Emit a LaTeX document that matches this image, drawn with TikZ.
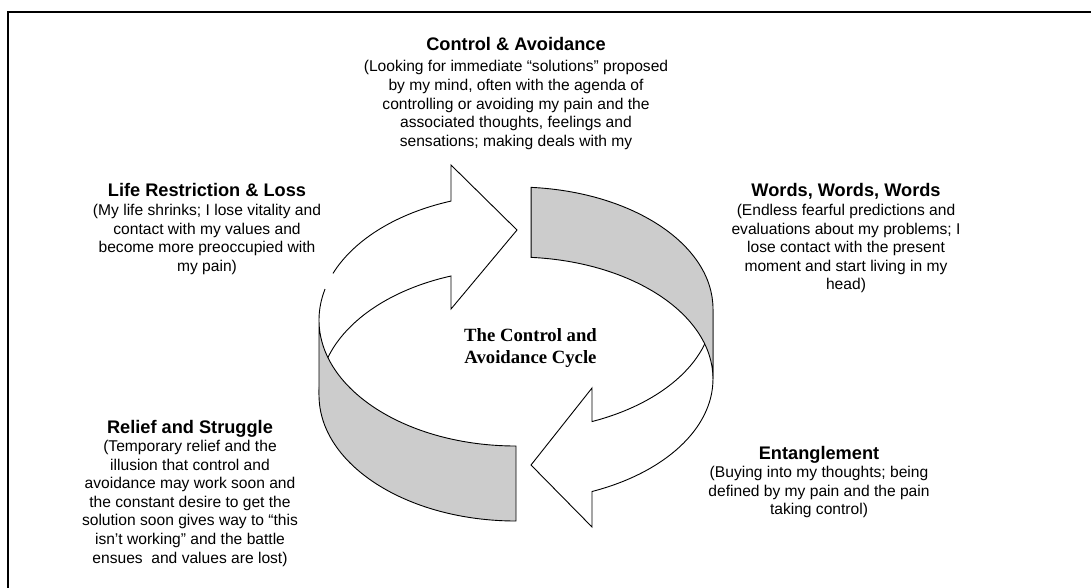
\documentclass[tikz,border=0pt]{standalone}
\usepackage{fontspec}
\setmainfont{Liberation Sans}
\newfontfamily\titlefont{Liberation Serif}
\usetikzlibrary{positioning}

\tikzset{
  headtext/.style={font=\fontsize{18.2}{21}\selectfont\bfseries, inner sep=0pt, anchor=base},
  bodytext/.style={font=\fontsize{15.6}{18.6}\selectfont, align=center, inner sep=0pt},
  cycletitle/.style={font=\titlefont\fontsize{18.7}{21.5}\selectfont\bfseries, align=center, inner sep=0pt},
  edge/.style={draw=black, line width=0.9pt, line join=miter},
  band/.style={edge, fill=white},
  bandgray/.style={edge, fill=gray!40},
}

\begin{document}
\begin{tikzpicture}[x=1pt, y=-1pt]
\useasboundingbox (0,0) rectangle (1091,587);
\draw[line width=2.6pt] (8,588) -- (8,12) -- (1092,12);

% centres of the ribbon edges
\coordinate (c1u) at (516,320);
\coordinate (c2u) at (516,309);

% ribbon 1: white arrow at the back, grey band in front
\fill[white] (c1u) ++(180:197 and 126) arc[start angle=180, end angle=250.73, x radius=197, y radius=126]
  -- (451,165) -- (517,230) -- (451,309) -- (451,276)
  arc[start angle=250.73, end angle=180, x radius=197, y radius=126] -- cycle;
\draw[edge] (c1u) ++(180:197 and 126) arc[start angle=180, end angle=194.2, x radius=197, y radius=126];
\draw[edge] (c1u) ++(201.7:197 and 126) arc[start angle=201.7, end angle=250.73, x radius=197, y radius=126]
  -- (451,165) -- (517,230) -- (451,309) -- (451,276)
  arc[start angle=250.73, end angle=180, x radius=197, y radius=126];
\path[bandgray] (c1u) ++(180:197 and 126) arc[start angle=180, end angle=90, x radius=197, y radius=126]
  -- ++(0,75) arc[start angle=90, end angle=180, x radius=197, y radius=126] -- cycle;

% ribbon 2: white arrow in front, grey band at the back
\path[band] (c2u) ++(0:197 and 122) arc[start angle=0, end angle=67.3, x radius=197, y radius=122]
  -- (592,388) -- (531,465) -- (592,527) -- (592,491.5)
  arc[start angle=67.3, end angle=0, x radius=197, y radius=122] -- cycle;
\path[bandgray] (c2u) ++(274.4:197 and 122) arc[start angle=274.4, end angle=360, x radius=197, y radius=122]
  -- ++(0,70) arc[start angle=360, end angle=274.4, x radius=197, y radius=122] -- cycle;

% texts
\node[headtext] (ctrl) at (516,50.7) {Control \& Avoidance};
\node[bodytext, below=9.6pt of ctrl.base] (ctrlbody) {(Looking for immediate “solutions” proposed\\
by my mind, often with the agenda of\\
controlling or avoiding my pain and the\\
associated thoughts, feelings and\\
sensations; making deals with my};

\node[headtext] (loss) at (207,196) {Life Restriction \& Loss};
\node[bodytext, below=8pt of loss.base] (lossbody) {(My life shrinks; I lose vitality and\\
contact with my values and\\
become more preoccupied with\\
my pain)};

\node[headtext] (words) at (846,196) {Words, Words, Words};
\node[bodytext, below=8pt of words.base] (wordsbody) {(Endless fearful predictions and\\
evaluations about my problems; I\\
lose contact with the present\\
moment and start living in my\\
head)};

\node[headtext] (relief) at (190,433) {Relief and Struggle};
\node[bodytext, below=7pt of relief.base] (reliefbody) {(Temporary relief and the\\
illusion that control and\\
avoidance may work soon and\\
the constant desire to get the\\
solution soon gives way to “this\\
isn’t working” and the battle\\
ensues\ \ and values are lost)};

\node[headtext] (tangle) at (819,459) {Entanglement};
\node[bodytext, below=7pt of tangle.base] (tanglebody) {(Buying into my thoughts; being\\
defined by my pain and the pain\\
taking control)};

\node[cycletitle] (cycle) at (530.5,348) {The Control and\\ Avoidance Cycle};
\end{tikzpicture}
\end{document}
